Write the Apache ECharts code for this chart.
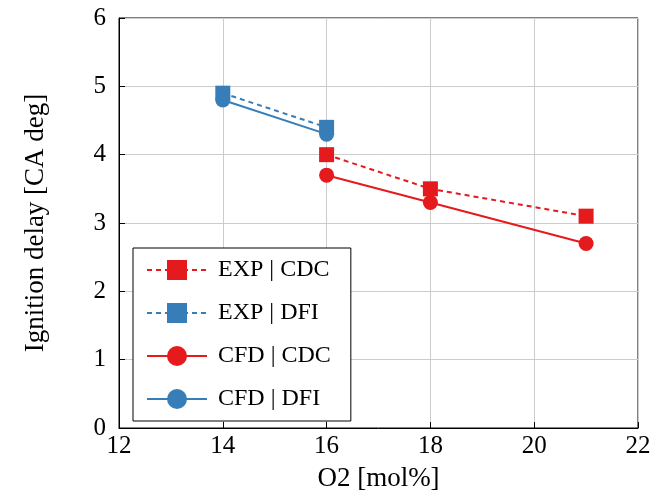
<!DOCTYPE html>
<html><head><meta charset="utf-8">
<script src="https://cdn.jsdelivr.net/npm/echarts@6/dist/echarts.min.js"></script>
<style>html,body{margin:0;padding:0;background:#fff}#c{width:654px;height:497px}</style>
</head><body><div id="c"></div>
<script>
const expCdcX = [16, 18, 21];
const expCdcY = [4.0, 3.5, 3.1];
const expDfiX = [14, 16];
const expDfiY = [4.9, 4.4];
const cfdCdcX = [16, 18, 21];
const cfdCdcY = [3.7, 3.3, 2.7];
const cfdDfiX = [14, 16];
const cfdDfiY = [4.8, 4.3];
const RED = '#e41a1c', BLUE = '#377eb8';
const F = 'Liberation Serif';
const pairs = (xs, ys) => xs.map((x, i) => [x, ys[i]]);
const chart = echarts.init(document.getElementById('c'));
function ser(name, xs, ys, color, dashed, sym) {
  return {
    name, type: 'line', data: pairs(xs, ys),
    symbol: sym, symbolSize: 15,
    itemStyle: {color},
    lineStyle: {color, width: 2, type: dashed ? [5, 4] : 'solid'},
    animation: false
  };
}
chart.setOption({
  animation: false,
  grid: {left: 119, right: 16, top: 18, bottom: 67, show: true, borderColor: '#000', borderWidth: 1},
  xAxis: {
    type: 'value', min: 12, max: 22, interval: 2,
    name: 'O2 [mol%]', nameLocation: 'middle', nameGap: 37,
    nameTextStyle: {fontFamily: F, fontSize: 27, color: '#000'},
    axisLine: {lineStyle: {color: '#000'}},
    axisTick: {inside: true, length: 6, lineStyle: {color: '#000'}},
    axisLabel: {fontFamily: F, fontSize: 25, color: '#000', margin: 6},
    splitLine: {lineStyle: {color: '#cccccc'}}
  },
  yAxis: {
    type: 'value', min: 0, max: 6, interval: 1,
    name: 'Ignition delay [CA deg]', nameLocation: 'middle', nameGap: 70, nameRotate: 90,
    nameTextStyle: {fontFamily: F, fontSize: 27, color: '#000'},
    axisLine: {lineStyle: {color: '#000'}},
    axisTick: {inside: true, length: 6, lineStyle: {color: '#000'}},
    axisLabel: {fontFamily: F, fontSize: 25, color: '#000', margin: 13},
    splitLine: {lineStyle: {color: '#cccccc'}}
  },
  legend: {
    orient: 'vertical', left: 133, top: 248, width: 215,
    backgroundColor: '#fff', borderColor: '#000', borderWidth: 1,
    padding: [10, 20, 10, 13], itemGap: 19, itemWidth: 60, itemHeight: 25,
    textStyle: {fontFamily: F, fontSize: 24, color: '#000', padding: [0, 0, 0, 6]},
    data: ['EXP | CDC', 'EXP | DFI', 'CFD | CDC', 'CFD | DFI']
  },
  series: [
    ser('EXP | CDC', expCdcX, expCdcY, RED, true, 'rect'),
    ser('EXP | DFI', expDfiX, expDfiY, BLUE, true, 'rect'),
    ser('CFD | CDC', cfdCdcX, cfdCdcY, RED, false, 'circle'),
    ser('CFD | DFI', cfdDfiX, cfdDfiY, BLUE, false, 'circle')
  ]
});
</script></body></html>
